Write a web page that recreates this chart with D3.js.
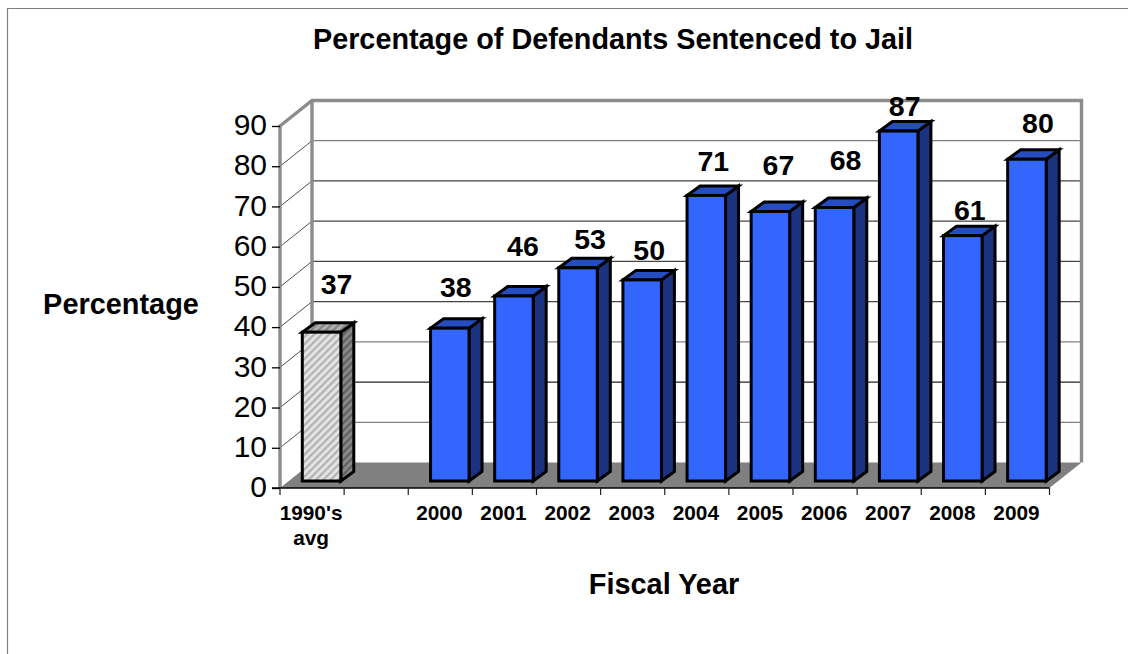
<!DOCTYPE html>
<html><head><meta charset="utf-8">
<script src="https://cdnjs.cloudflare.com/ajax/libs/d3/7.8.5/d3.min.js"></script>
<style>html,body{margin:0;padding:0;background:#fff;overflow:hidden}svg{display:block}text{font-family:"Liberation Sans",Arial,sans-serif;fill:#000}</style>
</head><body>
<svg id="c" width="1128" height="654"></svg>
<script>
const categories = ["1990's avg","","2000","2001","2002","2003","2004","2005","2006","2007","2008","2009"];
const values = [37,null,38,46,53,50,71,67,68,87,61,80];
const yTicks = [0,10,20,30,40,50,60,70,80,90];
const title = "Percentage of Defendants Sentenced to Jail";
const yTitle = "Percentage";
const xTitle = "Fiscal Year";
// per-label placement nudges relative to the bar top / bar centre (layout only)
const labelNudgeX = [15,0,6,9,12,7,7,8,11,6,7,11];
const labelNudgeY = [-48.5,0,-41.5,-50,-29,-30,-34,-47,-47,-25,-26,-36];

const svg = d3.select("#c");
const x = d3.scaleBand().domain(categories.map((d,i)=>i)).range([280,1049.5]).paddingInner(0).paddingOuter(0);
const y = d3.scaleLinear().domain([0,90]).range([488,126]);
const depthX = 32, depthY = -25.5;
const barInsetX = 22.3, barW = 38.5, barBaseShift = -7, barDX = 13, barDY = -9.5;
const wall = "#8c8c8c";
const gridColors = ["#808080","#222","#808080","#444","#444","#444","#444","#808080"];

// frame
svg.append("path").attr("d","M7.5,654V8.5H1128").attr("fill","none").attr("stroke","#808080").attr("stroke-width",1.2);

// floor
svg.append("polygon").attr("fill","#808080")
  .attr("points",[[280,y(0)],[1049.5,y(0)],[1049.5+depthX,y(0)+depthY],[280+depthX,y(0)+depthY]].join(" "));

// gridlines back + side
svg.append("g").selectAll("line").data(yTicks.slice(1,-1)).join("line")
  .attr("x1",280+depthX).attr("x2",1049.5+depthX)
  .attr("y1",d=>y(d)+depthY).attr("y2",d=>y(d)+depthY)
  .attr("stroke",(d,i)=>gridColors[i]).attr("stroke-width",1.2);
svg.append("g").selectAll("line").data(yTicks.slice(1,-1)).join("line")
  .attr("x1",280).attr("x2",280+depthX)
  .attr("y1",d=>y(d)).attr("y2",d=>y(d)+depthY)
  .attr("stroke","#222").attr("stroke-width",0.8);

// walls outline
svg.append("path").attr("fill","none").attr("stroke",wall).attr("stroke-width",3.4)
  .attr("d",`M280,${y(0)}V${y(90)}L${280+depthX},${y(90)+depthY}H${1049.5+depthX}V${y(0)+depthY}`);
svg.append("path").attr("fill","none").attr("stroke",wall).attr("stroke-width",3.4)
  .attr("d",`M${280+depthX},${y(90)+depthY}V${y(0)+depthY}`);

// hatch patterns
const defs = svg.append("defs");
function hatch(id,bg,fg){
  const p = defs.append("pattern").attr("id",id).attr("patternUnits","userSpaceOnUse")
    .attr("width",5.2).attr("height",5.2).attr("patternTransform","rotate(45)");
  p.append("rect").attr("width",5.2).attr("height",5.2).attr("fill",bg);
  p.append("rect").attr("width",2.2).attr("height",5.2).attr("fill",fg);
}
hatch("hFront","#e4e4e4","#b2b2b2");
hatch("hSide","#8a8a8a","#606060");
hatch("hTop","#b0b0b0","#858585");

// bars
const bars = values.map((v,i)=>({v,i})).filter(d=>d.v!==null);
const g = svg.append("g").attr("stroke","#000").attr("stroke-width",3).attr("stroke-linejoin","miter");
const fx = d=>x(d.i)+barInsetX;
const base = y(0)+barBaseShift;
const ty = d=>y(d.v)+barBaseShift;
const sel = g.selectAll("g").data(bars).join("g");
sel.append("polygon").attr("fill",d=>d.i===0?"url(#hSide)":"#1a3380")
  .attr("points",d=>[[fx(d)+barW,ty(d)],[fx(d)+barW+barDX,ty(d)+barDY],[fx(d)+barW+barDX,base+barDY],[fx(d)+barW,base]].join(" "));
sel.append("polygon").attr("fill",d=>d.i===0?"url(#hTop)":"#264dbf")
  .attr("points",d=>[[fx(d),ty(d)],[fx(d)+barDX,ty(d)+barDY],[fx(d)+barW+barDX,ty(d)+barDY],[fx(d)+barW,ty(d)]].join(" "));
sel.append("rect").attr("fill",d=>d.i===0?"url(#hFront)":"#3366ff")
  .attr("x",fx).attr("y",ty).attr("width",barW).attr("height",d=>base-ty(d));

// value labels
svg.append("g").selectAll("text").data(bars).join("text")
  .attr("text-anchor","middle").attr("font-weight","bold").attr("font-size",28.5)
  .attr("x",d=>fx(d)+barW/2+labelNudgeX[d.i])
  .attr("y",d=>ty(d)+labelNudgeY[d.i]+10)
  .text(d=>d.v);

// y axis
const ya = svg.append("g").attr("transform","translate(280,0)")
  .call(d3.axisLeft(y).tickValues(yTicks).tickSize(8).tickPadding(5));
ya.select(".domain").remove();
ya.selectAll("line").attr("stroke","#000").attr("stroke-width",1.3);
ya.selectAll("text").attr("font-size",30).attr("font-family","'Liberation Sans',Arial,sans-serif").attr("dy","0.29em");

// x axis
const xa = svg.append("g").attr("transform",`translate(0,${y(0)})`);
xa.append("line").attr("x1",272).attr("x2",1049.5).attr("stroke","#000").attr("stroke-width",1.5);
xa.selectAll("line.t").data(categories.map((d,i)=>i).concat(categories.length)).join("line").attr("class","t")
  .attr("x1",i=>280+i*x.step()).attr("x2",i=>280+i*x.step()).attr("y1",0).attr("y2",7)
  .attr("stroke","#222").attr("stroke-width",1.2);
svg.append("g").selectAll("text").data(categories.map((c,i)=>({c,i}))).join("text")
  .attr("text-anchor","middle").attr("font-weight","bold").attr("font-size",20.8)
  .attr("transform",d=>`translate(${x(d.i)+x.step()/2-1},520)`)
  .each(function(d){
    const words = d.c.split(" ");
    d3.select(this).selectAll("tspan").data(words).join("tspan")
      .attr("x",0).attr("dy",(w,k)=>k?25:0).text(w=>w);
  });

// titles
svg.append("text").attr("x",613).attr("y",48.5).attr("text-anchor","middle").attr("font-weight","bold").attr("font-size",28.8).text(title);
svg.append("text").attr("x",121).attr("y",314).attr("text-anchor","middle").attr("font-weight","bold").attr("font-size",28.9).text(yTitle);
svg.append("text").attr("x",664).attr("y",594).attr("text-anchor","middle").attr("font-weight","bold").attr("font-size",28.9).text(xTitle);
</script>
</body></html>
